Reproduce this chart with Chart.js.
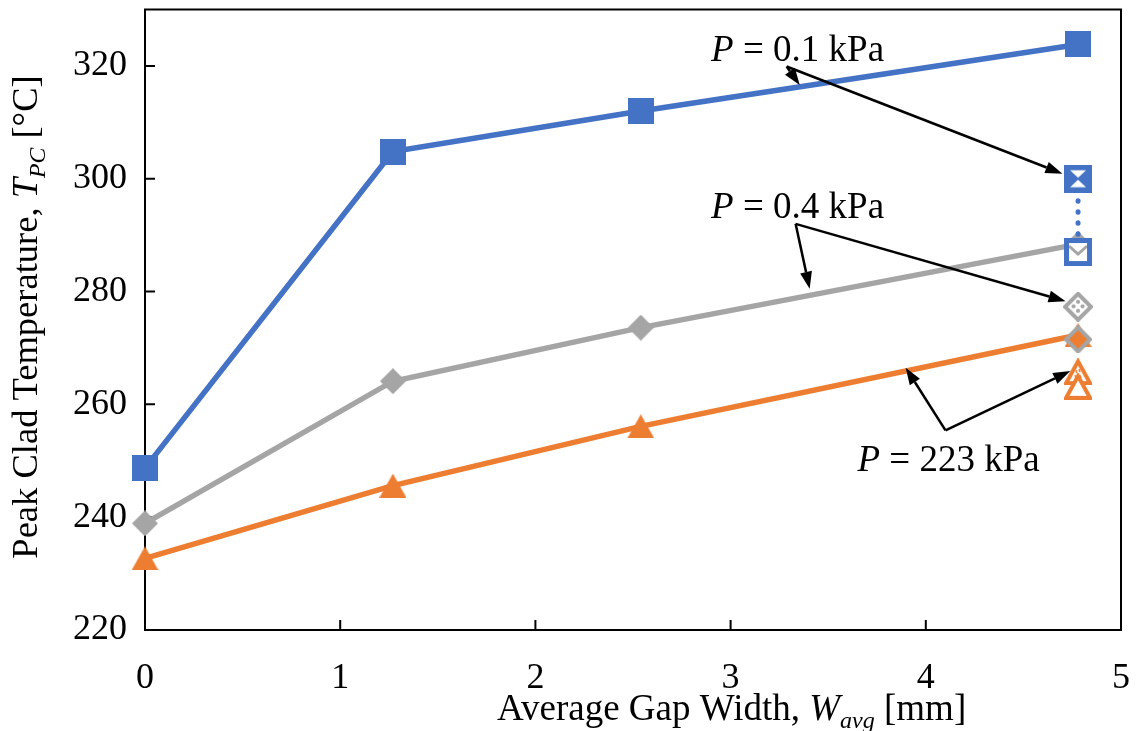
<!DOCTYPE html>
<html>
<head>
<meta charset="utf-8">
<script src="https://cdn.jsdelivr.net/npm/chart.js@4.4.1/dist/chart.umd.min.js"></script>
<style>
  html, body { margin: 0; padding: 0; background: #fff; }
</style>
</head>
<body>
<canvas id="tpc" width="1139" height="731"></canvas>
<script>
const gapWidths = [0, 1.27, 2.54, 4.78];
const tpcLowP = [248.7, 304.8, 312.0, 323.8];   // P = 0.1 kPa
const tpcMidP = [238.9, 264.1, 273.6, 288.4];   // P = 0.4 kPa
const tpcHighP = [232.7, 245.6, 256.1, 272.3];  // P = 223 kPa

// additional runs at the widest gap
const lowPRuns = [300.0, 287.0];
const midPRuns = [277.3, 271.5];
const highPRuns = [265.8, 263.2];

const xTicks = [0, 1, 2, 3, 4, 5];
const yTicks = [220, 240, 260, 280, 300, 320];

// pressure labels: text position, arrow origin, arrow tips (data units)
const notes = [
  { p: "0.1", at: [2.90, 320.8], from: [3.287, 319.9], to: [[3.354, 316.6], [4.700, 300.9]] },
  { p: "0.4", at: [2.90, 293.1], from: [3.333, 292.0], to: [[3.405, 280.5], [4.716, 278.3]] },
  { p: "223", at: [3.65, 248.2], from: [4.101, 255.4], to: [[3.897, 266.5], [4.740, 265.9]] }
];

const BLUE = "#4472C4", GRAY = "#A5A5A5", ORANGE = "#ED7D31";
const SERIF = '"Liberation Serif", "Times New Roman", serif';

function marker(w, h, draw) {
  const c = document.createElement("canvas");
  c.width = w; c.height = h;
  draw(c.getContext("2d"), w, h);
  return c;
}
function diamondPath(g, w, h, inset) {
  g.beginPath();
  g.moveTo(w / 2, inset); g.lineTo(w - inset, h / 2);
  g.lineTo(w / 2, h - inset); g.lineTo(inset, h / 2);
  g.closePath();
}
function trianglePath(g, w, h, inset) {
  g.beginPath();
  g.moveTo(w / 2, inset * 1.6); g.lineTo(w - inset, h - inset);
  g.lineTo(inset, h - inset);
  g.closePath();
}

const squareMk = marker(26, 26, (g, w, h) => { g.fillStyle = BLUE; g.fillRect(0, 0, w, h); });
const diamondMk = marker(26, 26, (g, w, h) => { g.fillStyle = GRAY; diamondPath(g, w, h, 0); g.fill(); });
const triangleMk = marker(27, 24, (g, w, h) => { g.fillStyle = ORANGE; trianglePath(g, w, h, 0); g.fill(); });

const crossSqMk = marker(28, 28, (g, w, h) => {
  g.fillStyle = BLUE; g.fillRect(0, 0, w, h);
  g.fillStyle = "#fff";
  g.beginPath(); g.moveTo(6, 5.5); g.lineTo(22, 5.5); g.lineTo(14, 13); g.closePath(); g.fill();
  g.beginPath(); g.moveTo(6, 22.5); g.lineTo(22, 22.5); g.lineTo(14, 15); g.closePath(); g.fill();
});
const openSqMk = marker(28, 28, (g, w, h) => {
  g.fillStyle = "#fff"; g.fillRect(0, 0, w, h);
  g.strokeStyle = GRAY; g.lineWidth = 3;
  g.beginPath(); g.moveTo(5, 8); g.lineTo(14, 16); g.lineTo(23, 8); g.stroke();
  g.strokeStyle = BLUE; g.lineWidth = 5;
  g.strokeRect(2.5, 2.5, w - 5, h - 5);
});
const dotDiamondMk = marker(30, 30, (g, w, h) => {
  g.fillStyle = "#fff"; diamondPath(g, w, h, 2); g.fill();
  g.strokeStyle = GRAY; g.lineWidth = 4; g.lineJoin = "miter"; g.stroke();
  g.fillStyle = GRAY;
  [[15, 10], [10.5, 14.5], [19.5, 14.5], [15, 19]].forEach(([x, y]) => {
    g.beginPath(); g.arc(x, y, 2.1, 0, Math.PI * 2); g.fill();
  });
});
const fillDiamondMk = marker(28, 28, (g, w, h) => {
  g.fillStyle = ORANGE; diamondPath(g, w, h, 2); g.fill();
  g.strokeStyle = GRAY; g.lineWidth = 4; g.stroke();
});
const hatchTriMk = marker(28, 27, (g, w, h) => {
  g.fillStyle = "#fff"; trianglePath(g, w, h, 2); g.fill();
  g.strokeStyle = ORANGE; g.lineWidth = 4; g.lineJoin = "miter"; g.stroke();
  g.lineWidth = 1.5;
  g.beginPath();
  g.moveTo(12, 12); g.lineTo(13, 15);
  g.moveTo(15, 11); g.lineTo(16, 14);
  g.moveTo(11, 17); g.lineTo(12, 20);
  g.moveTo(16, 17); g.lineTo(17, 20);
  g.stroke();
});
const openTriMk = marker(28, 27, (g, w, h) => {
  g.fillStyle = "#fff"; trianglePath(g, w, h, 2); g.fill();
  g.strokeStyle = ORANGE; g.lineWidth = 4; g.lineJoin = "miter"; g.stroke();
});

const pts = ys => ys.map((y, i) => ({ x: gapWidths[i], y }));
const atWidest = ys => ys.map(y => ({ x: gapWidths[gapWidths.length - 1], y }));

// draws text made of plain / italic / subscript runs
function runFont(st, size) {
  const fs = st.includes("s") ? size * 0.65 : size;
  return (st.includes("i") ? "italic " : "") + fs + "px " + SERIF;
}
function runsWidth(g, runs, size) {
  let w = 0;
  runs.forEach(([t, st]) => { g.font = runFont(st, size); w += g.measureText(t).width; });
  return w;
}
function drawRuns(g, runs, x, y, size) {
  let cx = x;
  runs.forEach(([t, st]) => {
    g.font = runFont(st, size);
    g.fillText(t, cx, y + (st.includes("s") ? size * 0.22 : 0));
    cx += g.measureText(t).width;
  });
}

const frame = {
  id: "frame",
  beforeDatasetsDraw(chart) {
    const { ctx, chartArea: a, scales: { x, y } } = chart;
    ctx.save();
    ctx.strokeStyle = "#000";
    ctx.lineWidth = 2;
    ctx.strokeRect(a.left, a.top, a.right - a.left, a.bottom - a.top);
    ctx.beginPath();
    yTicks.forEach(v => {
      const py = y.getPixelForValue(v);
      ctx.moveTo(a.left, py); ctx.lineTo(a.left + 10, py);
    });
    xTicks.forEach(v => {
      const px = x.getPixelForValue(v);
      ctx.moveTo(px, a.bottom); ctx.lineTo(px, a.bottom - 10);
    });
    ctx.stroke();
    ctx.restore();
  }
};

const labels = {
  id: "labels",
  afterDatasetsDraw(chart) {
    const { ctx, scales: { x, y } } = chart;
    ctx.save();
    ctx.fillStyle = "#000";
    ctx.strokeStyle = "#000";
    ctx.textBaseline = "alphabetic";
    ctx.textAlign = "left";

    notes.forEach(n => {
      drawRuns(ctx, [["P", "i"], [" = " + n.p + " kPa", ""]],
        x.getPixelForValue(n.at[0]), y.getPixelForValue(n.at[1]), 37);
      const fx = x.getPixelForValue(n.from[0]), fy = y.getPixelForValue(n.from[1]);
      n.to.forEach(t => {
        const tx = x.getPixelForValue(t[0]), ty = y.getPixelForValue(t[1]);
        const ang = Math.atan2(ty - fy, tx - fx);
        const len = 17, half = 6;
        const bx = tx - Math.cos(ang) * len, by = ty - Math.sin(ang) * len;
        ctx.lineWidth = 2.5;
        ctx.beginPath(); ctx.moveTo(fx, fy); ctx.lineTo(bx, by); ctx.stroke();
        ctx.beginPath();
        ctx.moveTo(tx, ty);
        ctx.lineTo(bx + Math.sin(ang) * half, by - Math.cos(ang) * half);
        ctx.lineTo(bx - Math.sin(ang) * half, by + Math.cos(ang) * half);
        ctx.closePath(); ctx.fill();
      });
    });

    // axis titles
    const xt = [["Average Gap Width, ", ""], ["W", "i"], ["avg", "is"], [" [mm]", ""]];
    drawRuns(ctx, xt, 497, 720, 37);

    const yt = [["Peak Clad Temperature, ", ""], ["T", "i"], ["PC", "is"], [" [°C]", ""]];
    const w = runsWidth(ctx, yt, 36.5);
    ctx.translate(37, 317);
    ctx.rotate(-Math.PI / 2);
    drawRuns(ctx, yt, -w / 2, 0, 36.5);
    ctx.restore();
  }
};

new Chart(document.getElementById("tpc"), {
  type: "line",
  data: {
    datasets: [
      { data: atWidest(lowPRuns), showLine: false, pointStyle: [crossSqMk, openSqMk], order: 1, clip: false },
      { data: atWidest(midPRuns), showLine: false, pointStyle: [dotDiamondMk, fillDiamondMk], order: 1, clip: false },
      { data: atWidest(highPRuns), showLine: false, pointStyle: [hatchTriMk, openTriMk], order: 1, clip: false },
      { data: atWidest(lowPRuns), borderColor: BLUE, borderWidth: 5, borderDash: [0.5, 10.5],
        borderCapStyle: "round", pointRadius: 0, order: 2, clip: false },
      { data: pts(tpcLowP), borderColor: BLUE, borderWidth: 5.5, pointStyle: squareMk, order: 5, clip: false },
      { data: pts(tpcMidP), borderColor: GRAY, borderWidth: 5.5, pointStyle: diamondMk, order: 6, clip: false },
      { data: pts(tpcHighP), borderColor: ORANGE, borderWidth: 5.5, pointStyle: triangleMk, order: 7, clip: false }
    ]
  },
  options: {
    responsive: false,
    animation: false,
    devicePixelRatio: 1,
    layout: { padding: { left: 0, top: 6, right: 18, bottom: 0 } },
    plugins: { legend: { display: false }, tooltip: { enabled: false } },
    elements: { line: { tension: 0 } },
    scales: {
      x: {
        type: "linear", min: 0, max: 5,
        afterBuildTicks: s => { s.ticks = xTicks.map(v => ({ value: v })); },
        afterFit: s => { s.height = 101; s.paddingLeft = 0; s.paddingRight = 0; },
        grid: { display: false, drawTicks: false },
        border: { display: false },
        ticks: { color: "#000", padding: 27, font: { family: SERIF, size: 36 } }
      },
      y: {
        min: 220, max: 330,
        afterBuildTicks: s => { s.ticks = yTicks.map(v => ({ value: v })); },
        afterFit: s => { s.width = 145; s.paddingTop = 0; s.paddingBottom = 0; },
        grid: { display: false, drawTicks: false },
        border: { display: false },
        ticks: { color: "#000", padding: 18, font: { family: SERIF, size: 36 } }
      }
    }
  },
  plugins: [frame, labels]
});
</script>
</body>
</html>
